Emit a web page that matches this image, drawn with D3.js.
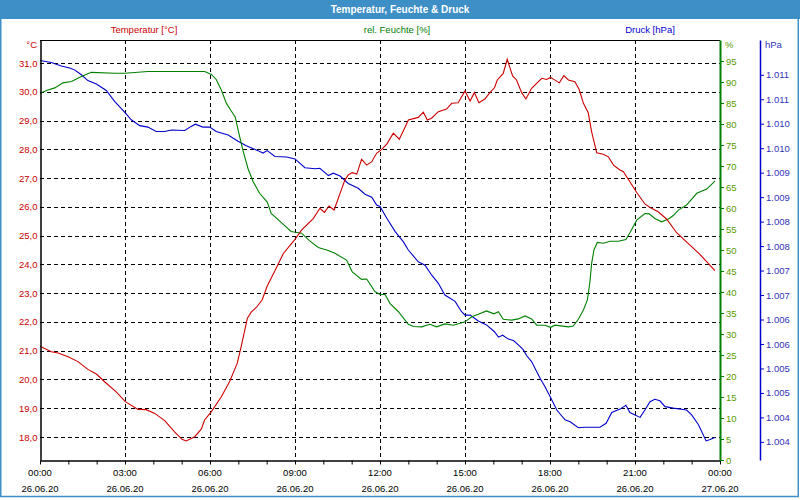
<!DOCTYPE html>
<html>
<head>
<meta charset="utf-8">
<script src="https://cdnjs.cloudflare.com/ajax/libs/d3/7.8.5/d3.min.js"></script>
<style>
  html, body { margin: 0; padding: 0; background: #ffffff; }
  svg text { font-family: "Liberation Sans", Arial, sans-serif; }
</style>
</head>
<body>
<div id="chart"></div>
<script>
'use strict';

// Daten: [Stunde, Wert]
const tempData = [[0,21.15],[0.4,20.96],[0.64,20.92],[0.99,20.79],[1.34,20.62],[1.69,20.35],[1.99,20.19],[2.28,19.92],[2.69,19.57],[3.01,19.23],[3.46,18.96],[3.75,18.95],[4.05,18.82],[4.4,18.57],[4.75,18.18],[5.01,17.92],[5.16,17.86],[5.46,18.01],[5.69,18.27],[5.81,18.59],[6.05,18.88],[6.4,19.4],[6.69,19.92],[6.96,20.56],[7.1,21.14],[7.32,22.13],[7.46,22.35],[7.64,22.51],[7.84,22.76],[8.02,23.25],[8.3,23.8],[8.59,24.38],[9.0,24.87],[9.23,25.19],[9.65,25.6],[9.88,25.95],[10.04,25.81],[10.2,26.03],[10.38,25.89],[10.59,26.47],[10.76,26.93],[10.88,27.11],[11.02,27.19],[11.18,27.14],[11.35,27.65],[11.53,27.45],[11.71,27.57],[11.88,27.86],[12.06,28.0],[12.24,28.18],[12.47,28.56],[12.68,28.35],[12.88,28.76],[13.0,29.02],[13.35,29.11],[13.53,29.29],[13.67,29.02],[13.82,29.08],[14.06,29.31],[14.35,29.4],[14.53,29.6],[14.76,29.62],[15.0,30.03],[15.18,29.68],[15.33,29.97],[15.49,29.62],[15.7,29.75],[15.88,29.97],[16.04,30.14],[16.14,30.41],[16.35,30.64],[16.49,31.13],[16.68,30.55],[16.82,30.41],[17.0,29.97],[17.15,29.75],[17.35,30.12],[17.71,30.47],[17.88,30.43],[18.02,30.5],[18.33,30.31],[18.49,30.56],[18.65,30.41],[18.88,30.35],[19.03,30.08],[19.18,29.6],[19.35,29.27],[19.47,28.61],[19.65,27.88],[19.88,27.83],[20.06,27.74],[20.24,27.45],[20.47,27.28],[20.59,27.22],[20.82,26.87],[21.06,26.5],[21.35,26.1],[21.53,25.98],[21.82,25.83],[22.12,25.57],[22.47,25.1],[22.94,24.67],[23.29,24.35],[23.82,23.78]];

const humData = [[0,87.3],[0.28,88.1],[0.52,88.6],[0.81,89.8],[1.11,90.1],[1.46,91.3],[1.81,92.3],[2.64,92.1],[2.99,92.1],[3.81,92.5],[5.81,92.5],[6.05,91.8],[6.22,90.6],[6.4,88.1],[6.58,84.9],[6.75,83.1],[6.89,81.7],[6.99,78.6],[7.16,73.8],[7.34,69.4],[7.52,66.3],[7.75,63.5],[8.02,61.4],[8.16,58.7],[8.52,56.5],[8.86,54.4],[9.23,54.0],[9.53,52.1],[9.82,50.6],[10.12,50.0],[10.41,49.2],[10.82,47.6],[11.02,44.8],[11.35,43.0],[11.53,43.1],[11.82,40.1],[12.0,39.4],[12.18,39.4],[12.35,37.3],[12.65,35.3],[13.0,32.3],[13.18,31.8],[13.47,31.7],[13.76,32.3],[14.0,31.7],[14.29,32.4],[14.59,32.1],[15.0,32.9],[15.24,34.1],[15.47,34.7],[15.76,35.5],[16.02,34.8],[16.18,35.3],[16.35,33.5],[16.65,33.3],[16.88,33.6],[17.12,34.3],[17.35,33.6],[17.53,32.1],[17.82,32.1],[18.02,31.6],[18.18,32.1],[18.65,31.7],[18.82,31.9],[19.0,33.5],[19.18,35.7],[19.32,38.1],[19.41,42.5],[19.47,46.8],[19.55,50.0],[19.67,51.8],[19.88,51.6],[20.12,52.1],[20.41,52.1],[20.68,52.5],[20.82,54.1],[21.06,57.1],[21.35,58.7],[21.5,58.6],[21.7,57.5],[21.94,56.7],[22.18,57.4],[22.35,58.2],[22.53,59.5],[22.82,60.7],[23.18,63.5],[23.53,64.5],[23.82,66.4]];

const pressData = [[0,1011.79],[0.4,1011.75],[0.75,1011.68],[1.05,1011.64],[1.22,1011.6],[1.46,1011.5],[1.69,1011.38],[1.99,1011.31],[2.34,1011.18],[2.64,1010.95],[3.01,1010.72],[3.22,1010.58],[3.52,1010.46],[3.81,1010.43],[4.1,1010.34],[4.4,1010.34],[4.64,1010.37],[5.11,1010.36],[5.32,1010.44],[5.48,1010.49],[5.75,1010.43],[5.99,1010.43],[6.22,1010.34],[6.64,1010.27],[6.99,1010.14],[7.28,1010.05],[7.69,1009.95],[7.87,1009.9],[8.02,1009.95],[8.29,1009.83],[8.71,1009.82],[9.0,1009.78],[9.35,1009.6],[9.71,1009.58],[9.88,1009.59],[10.18,1009.44],[10.35,1009.49],[10.59,1009.43],[10.88,1009.28],[11.23,1009.18],[11.47,1009.06],[11.71,1009.0],[11.88,1008.84],[12.0,1008.81],[12.24,1008.57],[12.53,1008.3],[12.82,1008.09],[13.0,1007.92],[13.35,1007.68],[13.59,1007.61],[13.82,1007.41],[14.06,1007.24],[14.29,1007.0],[14.65,1006.87],[14.88,1006.66],[15.0,1006.59],[15.18,1006.59],[15.47,1006.47],[15.76,1006.39],[16.04,1006.25],[16.18,1006.14],[16.33,1006.18],[16.53,1006.1],[16.71,1006.07],[16.94,1005.95],[17.06,1005.88],[17.18,1005.76],[17.35,1005.64],[17.65,1005.3],[17.82,1005.13],[18.06,1004.86],[18.24,1004.65],[18.53,1004.45],[18.71,1004.41],[19.0,1004.29],[19.24,1004.3],[19.76,1004.3],[19.98,1004.38],[20.18,1004.6],[20.47,1004.67],[20.68,1004.75],[20.82,1004.6],[21.18,1004.5],[21.35,1004.65],[21.53,1004.82],[21.7,1004.87],[21.88,1004.84],[22.06,1004.72],[22.35,1004.69],[22.82,1004.65],[23.0,1004.55],[23.24,1004.35],[23.51,1004.02],[23.65,1004.05],[23.82,1004.09]];

// Achsenbeschriftungen
const tempTicks = [18,19,20,21,22,23,24,25,26,27,28,29,30,31];
const humTicks = [0,5,10,15,20,25,30,35,40,45,50,55,60,65,70,75,80,85,90,95];
const pressTicks = [1011.5,1011,1010.5,1010,1009.5,1009,1008.5,1008,1007.5,1007,1006.5,1006,1005.5,1005,1004.5,1004];
const pressTickLabels = ["1.011","1.011","1.010","1.010","1.009","1.009","1.008","1.008","1.007","1.007","1.006","1.006","1.005","1.005","1.004","1.004"];
const hourTicks = d3.range(0, 25);
const labelHours = [0,3,6,9,12,15,18,21,24];
const timeLabels = ["00:00","03:00","06:00","09:00","12:00","15:00","18:00","21:00","00:00"];
const dateLabels = ["26.06.20","26.06.20","26.06.20","26.06.20","26.06.20","26.06.20","26.06.20","26.06.20","27.06.20"];

const W = 800, H = 500;
const plot = {left: 40, right: 720, top: 40, bottom: 460};
const pressAxisX = 760;

const colTemp = "#cc0000", colHum = "#008000", colPress = "#0000cc";

const de = d3.formatLocale({decimal: ",", thousands: ".", grouping: [3], currency: ["", "€"]});
const fmtTemp = de.format(".1f");

const svg = d3.select("#chart").append("svg")
    .attr("width", W)
    .attr("height", H);

svg.append("rect").attr("width", W).attr("height", H).attr("fill", "#ffffff");

// Titelleiste
svg.append("rect")
    .attr("x", 0).attr("y", 0).attr("width", W).attr("height", 19)
    .attr("fill", "#3d8fc6");
svg.append("text")
    .attr("x", W / 2).attr("y", 13)
    .attr("text-anchor", "middle")
    .style("font-size", "10px").style("font-weight", "bold")
    .attr("fill", "#ffffff")
    .text("Temperatur, Feuchte & Druck");

// Rahmen
svg.append("rect")
    .attr("x", 0.75).attr("y", 0.5).attr("width", W - 2.5).attr("height", 496)
    .attr("fill", "none").attr("stroke", "#3d8fc6").attr("stroke-width", 1.5);

const x = d3.scaleLinear().domain([0, 24]).range([plot.left, plot.right]);
const yT = d3.scaleLinear().domain([17.2, 31.8]).range([plot.bottom, plot.top]);
const yH = d3.scaleLinear().domain([0, 100]).range([plot.bottom, plot.top]);
const yP = d3.scaleLinear().domain([1003.63, 1012.21]).range([plot.bottom, plot.top]);

// Gitterlinien
const grid = svg.append("g").attr("stroke", "#000").attr("stroke-width", 1).attr("stroke-dasharray", "4,3");
tempTicks.forEach(t => {
    grid.append("line")
        .attr("x1", plot.left).attr("x2", plot.right)
        .attr("y1", Math.round(yT(t)) + 0.5).attr("y2", Math.round(yT(t)) + 0.5);
});
labelHours.slice(1, -1).forEach(h => {
    grid.append("line")
        .attr("x1", Math.round(x(h)) + 0.5).attr("x2", Math.round(x(h)) + 0.5)
        .attr("y1", plot.top).attr("y2", plot.bottom);
});

// Linien
const line = (ys) => d3.line().x(d => x(d[0])).y(d => ys(d[1]));
svg.append("path").datum(pressData).attr("d", line(yP))
    .attr("fill", "none").attr("stroke", colPress).attr("stroke-width", 1.1);
svg.append("path").datum(humData).attr("d", line(yH))
    .attr("fill", "none").attr("stroke", colHum).attr("stroke-width", 1.1);
svg.append("path").datum(tempData).attr("d", line(yT))
    .attr("fill", "none").attr("stroke", colTemp).attr("stroke-width", 1.1);

// Rahmen des Diagramms
svg.append("line").attr("x1", plot.left).attr("x2", plot.right).attr("y1", plot.top + 0.5).attr("y2", plot.top + 0.5)
    .attr("stroke", "#000");

// linke Achse (Temperatur)
const gLeft = svg.append("g").attr("transform", `translate(${plot.left + 0.5},0)`)
    .call(d3.axisLeft(yT).tickValues(tempTicks).tickSize(0).tickPadding(3).tickFormat(fmtTemp));
gLeft.select(".domain").attr("stroke", "#000").attr("stroke-width", 1.5);
gLeft.selectAll("text").attr("fill", colTemp).style("font-size", "9.5px").style("font-family", "Liberation Sans, Arial, sans-serif");

// untere Achse (Zeit)
const gBottom = svg.append("g").attr("transform", `translate(0,${plot.bottom + 0.5})`)
    .call(d3.axisBottom(x).tickValues(hourTicks).tickSize(4).tickSizeOuter(0).tickFormat(""));
gBottom.select(".domain").attr("stroke", "#000").attr("stroke-width", 1.5);
gBottom.selectAll(".tick line").attr("stroke", "#000");
labelHours.forEach((h, i) => {
    svg.append("text").attr("x", x(h)).attr("y", 476)
        .attr("text-anchor", "middle").style("font-size", "9.5px").attr("fill", "#000")
        .text(timeLabels[i]);
    svg.append("text").attr("x", x(h)).attr("y", 492)
        .attr("text-anchor", "middle").style("font-size", "9.5px").attr("fill", "#000")
        .text(dateLabels[i]);
});

// rechte Achse (Feuchte)
const gHum = svg.append("g").attr("transform", `translate(${plot.right},0)`)
    .call(d3.axisRight(yH).tickValues(humTicks).tickSize(4).tickSizeOuter(0).tickPadding(2).tickFormat(d3.format("d")));
gHum.select(".domain").attr("stroke", colHum).attr("stroke-width", 2);
gHum.selectAll(".tick line").attr("stroke", colHum);
gHum.selectAll("text").attr("fill", "#5a9a00").style("font-size", "9.5px").style("font-family", "Liberation Sans, Arial, sans-serif");

// rechte Achse (Druck)
const gPress = svg.append("g").attr("transform", `translate(${pressAxisX},0)`)
    .call(d3.axisRight(yP).tickValues(pressTicks).tickSize(4).tickSizeOuter(0).tickPadding(2)
        .tickFormat((d, i) => pressTickLabels[i]));
gPress.select(".domain").attr("stroke", colPress).attr("stroke-width", 1.5);
gPress.selectAll(".tick line").attr("stroke", colPress);
gPress.selectAll("text").attr("fill", "#3333bb").style("font-size", "9.5px").style("font-family", "Liberation Sans, Arial, sans-serif");

// Einheiten
svg.append("text").attr("x", 37).attr("y", 48).attr("text-anchor", "end")
    .style("font-size", "9.5px").attr("fill", colTemp).text("°C");
svg.append("text").attr("x", 725).attr("y", 48)
    .style("font-size", "9.5px").attr("fill", "#5a9a00").text("%");
svg.append("text").attr("x", 765).attr("y", 48)
    .style("font-size", "9.5px").attr("fill", "#3333bb").text("hPa");

// Reihentitel
const seriesTitles = [["Temperatur [°C]", 144, colTemp], ["rel. Feuchte [%]", 397, colHum], ["Druck [hPa]", 650, colPress]];
seriesTitles.forEach(s => {
    svg.append("text").attr("x", s[1]).attr("y", 33).attr("text-anchor", "middle")
        .style("font-size", "9.5px").attr("fill", s[2]).text(s[0]);
});
</script>
</body>
</html>
